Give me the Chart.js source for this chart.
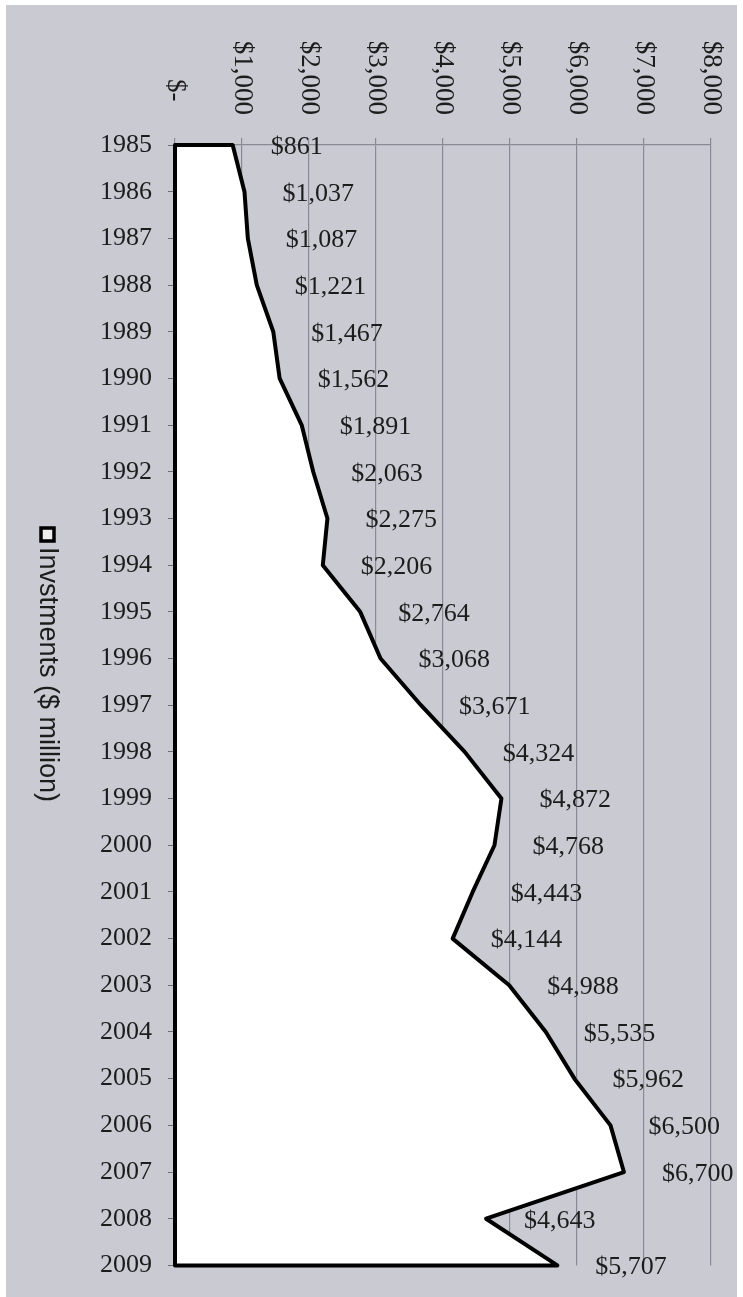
<!DOCTYPE html>
<html lang="en">
<head>
  <meta charset="UTF-8">
  <title>Investments ($ million) 1985-2009</title>
  <script src="https://cdn.jsdelivr.net/npm/chart.js"></script>
  <style>
    body { margin: 0; background: #fff; }
    #wrap { width: 743px; height: 1297px; }
  </style>
</head>
<body>
  <div id="wrap"><canvas id="myChart" width="743" height="1297"></canvas></div>

  <script>
    // Data
    const years = ['1985','1986','1987','1988','1989','1990','1991','1992','1993','1994','1995','1996',
                   '1997','1998','1999','2000','2001','2002','2003','2004','2005','2006','2007','2008','2009'];
    const investments = [861, 1037, 1087, 1221, 1467, 1562, 1891, 2063, 2275, 2206, 2764, 3068,
                         3671, 4324, 4872, 4768, 4443, 4144, 4988, 5535, 5962, 6500, 6700, 4643, 5707];
    const valueTicks = [0, 1000, 2000, 3000, 4000, 5000, 6000, 7000, 8000];
    const valueTickLabels = ['$-  ', '$1,000', '$2,000', '$3,000', '$4,000', '$5,000', '$6,000', '$7,000', '$8,000'];
    const seriesName = 'Invstments ($ million)';

    const BG = '#cacad3';
    const GRID = '#8a8a95';
    const INK = '#1c1c1c';
    const SERIF = '"Liberation Serif", "Times New Roman", serif';

    const fmt = v => '$' + v.toLocaleString('en-US');

    // gray page behind the chart
    const background = {
      id: 'background',
      beforeDraw(chart) {
        const ctx = chart.ctx;
        ctx.save();
        ctx.fillStyle = BG;
        ctx.fillRect(6, 5, 731, 1292);
        ctx.restore();
      }
    };

    // closed black outline round the area (left edge, top and bottom included)
    const areaOutline = {
      id: 'areaOutline',
      afterDatasetsDraw(chart) {
        const pts = chart.getDatasetMeta(0).data;
        const x0 = chart.scales.x.getPixelForValue(0);
        const ctx = chart.ctx;
        ctx.save();
        ctx.beginPath();
        ctx.moveTo(x0, pts[0].y);
        pts.forEach(p => ctx.lineTo(p.x, p.y));
        ctx.lineTo(x0, pts[pts.length - 1].y);
        ctx.closePath();
        ctx.lineWidth = 4;
        ctx.lineJoin = 'round';
        ctx.strokeStyle = '#000';
        ctx.stroke();
        ctx.restore();
      }
    };

    // rotated value labels on top, data labels, rotated legend
    const texts = {
      id: 'texts',
      afterDraw(chart) {
        const ctx = chart.ctx;
        const xs = chart.scales.x;

        // value axis labels, reading top to bottom
        ctx.save();
        ctx.fillStyle = INK;
        ctx.font = '27px ' + SERIF;
        ctx.textAlign = 'right';
        ctx.textBaseline = 'middle';
        valueTicks.forEach((v, i) => {
          ctx.save();
          ctx.translate(xs.getPixelForValue(v), 115);
          ctx.rotate(Math.PI / 2);
          ctx.fillText(valueTickLabels[i], 0, 0);
          ctx.restore();
        });
        ctx.restore();

        // data labels
        ctx.save();
        ctx.fillStyle = INK;
        ctx.font = '26px ' + SERIF;
        ctx.textAlign = 'left';
        ctx.textBaseline = 'middle';
        chart.getDatasetMeta(0).data.forEach((p, i) => {
          ctx.fillText(fmt(investments[i]), p.x + 38, p.y + 2);
        });
        ctx.restore();

        // legend
        ctx.save();
        ctx.fillStyle = '#eeeeee';
        ctx.fillRect(41, 528, 13, 13);
        ctx.lineWidth = 3.5;
        ctx.strokeStyle = '#000';
        ctx.strokeRect(41, 528, 13, 13);
        ctx.translate(47, 547);
        ctx.rotate(Math.PI / 2);
        ctx.fillStyle = INK;
        ctx.font = '27px "Liberation Sans", Arial, sans-serif';
        ctx.textAlign = 'left';
        ctx.textBaseline = 'middle';
        ctx.fillText(seriesName, 0, 0);
        ctx.restore();
      }
    };

    const ctx = document.getElementById('myChart').getContext('2d');
    const myChart = new Chart(ctx, {
      type: 'line',
      data: {
        labels: years,
        datasets: [{
          label: seriesName,
          data: investments,
          fill: 'origin',
          backgroundColor: '#ffffff',
          borderColor: 'rgba(0,0,0,0)',
          borderWidth: 0,
          pointRadius: 0,
          tension: 0
        }]
      },
      options: {
        indexAxis: 'y',
        responsive: false,
        animation: false,
        layout: { padding: { left: 0, top: 0, right: 32, bottom: 27 } },
        plugins: {
          legend: { display: false },
          tooltip: { enabled: false }
        },
        scales: {
          x: {
            type: 'linear',
            position: 'top',
            min: 0,
            max: 8000,
            ticks: { display: false, stepSize: 1000 },
            grid: { color: GRID, lineWidth: 1.2, tickLength: 7 },
            border: { color: GRID, width: 1.2 },
            afterFit(scale) { scale.height = 145; }
          },
          y: {
            type: 'category',
            grid: { drawOnChartArea: false, drawTicks: true, tickLength: 7, color: '#6e6e78' },
            border: { color: '#000', width: 2 },
            ticks: { color: INK, font: { family: SERIF, size: 26 }, padding: 16 },
            afterFit(scale) { scale.width = 175; }
          }
        }
      },
      plugins: [background, areaOutline, texts]
    });
  </script>
</body>
</html>
